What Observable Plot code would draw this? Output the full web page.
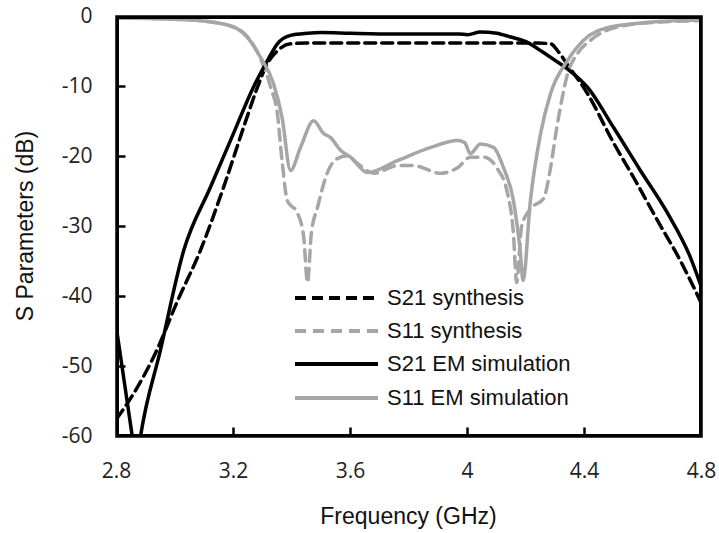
<!DOCTYPE html>
<html><head><meta charset="utf-8">
<script src="https://cdn.jsdelivr.net/npm/d3@7"></script>
<script src="https://cdn.jsdelivr.net/npm/@observablehq/plot@0.6"></script>
<style>
body{margin:0;background:#fff}
#wrap{position:relative;width:719px;height:533px}
#legend{position:absolute;left:295px;top:281px;font-family:"Liberation Sans",Arial,sans-serif;font-size:22px;color:#111}
.row{display:flex;align-items:center;height:33.4px;white-space:nowrap}
.row svg{margin-right:9px;display:block}
.title{position:absolute;font-family:"Liberation Sans",Arial,sans-serif;font-size:23px;color:#111;white-space:nowrap;line-height:1}
#xtitle{left:0;width:817px;top:505px;text-align:center}
#ytitle{left:25px;top:226px;transform:translate(-50%,-50%) rotate(-90deg)}
</style></head><body><div id="wrap"><div id="legend"></div><div id="xtitle" class="title"></div><div id="ytitle" class="title"></div></div>
<script>
// Axis domains and tick values
const xDomain = [2.8, 4.8];
const yDomain = [-60, 0];
const xTicks = [2.8, 3.2, 3.6, 4, 4.4, 4.8];
const yTicks = [0, -10, -20, -30, -40, -50, -60];
const xTitle = "Frequency (GHz)";
const yTitle = "S Parameters (dB)";

// Series names and styles
const seriesNames = ["S21 synthesis", "S11 synthesis", "S21 EM simulation", "S11 EM simulation"];
const seriesColors = ["#000000", "#a6a6a6", "#000000", "#a6a6a6"];
const seriesDash = ["11,6", "11,7", null, null];

// S21 synthesis
const s21SynF = [2.8, 2.858, 2.933, 3.009, 3.087, 3.166, 3.234, 3.282, 3.316, 3.35, 3.395, 3.45, 3.6, 3.8, 4.0, 4.15, 4.24, 4.284, 4.31, 4.342, 4.41, 4.5, 4.568, 4.649, 4.728, 4.8];
const s21SynDb = [-57.5, -53.9, -48.1, -40.6, -33.4, -24.4, -15.9, -10.1, -6.7, -4.9, -3.9, -3.8, -3.8, -3.8, -3.8, -3.8, -3.8, -3.9, -5.0, -6.9, -11.0, -18.1, -23.0, -29.1, -34.9, -41.0];

// S11 synthesis
const s11SynF = [2.8, 3.0, 3.09, 3.2, 3.25, 3.29, 3.327, 3.35, 3.366, 3.384, 3.419, 3.44, 3.453, 3.466, 3.487, 3.52, 3.555, 3.59, 3.624, 3.68, 3.76, 3.815, 3.908, 3.966, 4.01, 4.055, 4.1, 4.137, 4.157, 4.168, 4.185, 4.215, 4.26, 4.284, 4.302, 4.322, 4.342, 4.376, 4.42, 4.513, 4.65, 4.8];
const s11SynDb = [-0.2, -0.4, -0.6, -1.5, -3.0, -5.8, -10.1, -13.9, -20.6, -26.3, -28.1, -31.5, -38.0, -31.0, -27.3, -22.4, -20.3, -19.9, -21.0, -22.4, -21.3, -21.3, -22.4, -21.6, -20.1, -20.1, -21.6, -25.3, -31.0, -38.0, -30.0, -27.5, -26.0, -21.6, -16.7, -12.0, -8.2, -5.3, -3.4, -1.5, -0.8, -0.6];

// S21 EM simulation
const s21EmF = [2.8, 2.854, 2.868, 2.882, 2.95, 3.03, 3.121, 3.2, 3.268, 3.316, 3.35, 3.395, 3.453, 3.5, 3.6, 3.75, 3.9, 3.97, 4.0, 4.044, 4.1, 4.145, 4.2, 4.24, 4.29, 4.342, 4.41, 4.5, 4.591, 4.684, 4.762, 4.8];
const s21EmDb = [-44.6, -60.0, -64.0, -60.0, -47.7, -33.4, -24.4, -16.7, -10.1, -6.3, -3.9, -2.7, -2.4, -2.3, -2.4, -2.5, -2.5, -2.5, -2.6, -2.2, -2.4, -2.9, -3.6, -4.6, -6.0, -7.5, -10.1, -15.9, -22.0, -28.1, -34.4, -38.7];

// S11 EM simulation
const s11EmF = [2.8, 2.9, 3.0, 3.087, 3.2, 3.248, 3.292, 3.337, 3.366, 3.395, 3.429, 3.474, 3.508, 3.532, 3.566, 3.6, 3.658, 3.76, 3.874, 3.966, 3.99, 4.01, 4.044, 4.089, 4.123, 4.157, 4.18, 4.19, 4.215, 4.25, 4.284, 4.342, 4.397, 4.489, 4.626, 4.8];
const s11EmDb = [-0.2, -0.3, -0.4, -0.6, -1.5, -3.0, -5.8, -9.6, -14.4, -22.0, -18.7, -14.9, -16.7, -17.3, -19.1, -20.1, -22.3, -20.6, -18.7, -17.7, -18.0, -19.6, -18.2, -18.7, -21.6, -26.3, -33.4, -37.7, -26.3, -16.7, -11.0, -6.3, -3.4, -1.5, -0.8, -0.5];

const seriesF = [s21SynF, s11SynF, s21EmF, s11EmF];
const seriesDb = [s21SynDb, s11SynDb, s21EmDb, s11EmDb];

const tickFont = '"Open Sans", "Liberation Sans", sans-serif';
const W = 719, H = 533, mL = 116, mR = 18, mT = 16, mB = 97;
const tickPx = 9;

const lineMarks = seriesNames.map((name, i) =>
  Plot.line(seriesF[i].map((f, j) => ({f, db: seriesDb[i][j]})), {
    x: "f", y: "db", stroke: seriesColors[i], strokeWidth: 3.5,
    strokeDasharray: seriesDash[i] || undefined, curve: "monotone-x", clip: true
  })
);

// frame outline and inward ticks, derived from domains and tick arrays
const frameCorners = [
  {x: xDomain[0], y: yDomain[0]}, {x: xDomain[1], y: yDomain[0]},
  {x: xDomain[1], y: yDomain[1]}, {x: xDomain[0], y: yDomain[1]},
  {x: xDomain[0], y: yDomain[0]}
];
const tickDb = (yDomain[1] - yDomain[0]) * tickPx / (H - mT - mB);
const tickGHz = (xDomain[1] - xDomain[0]) * tickPx / (W - mL - mR);
const xTickSegs = xTicks.slice(1, -1).flatMap(t => [{x: t, y: yDomain[0], z: "x" + t}, {x: t, y: yDomain[0] + tickDb, z: "x" + t}]);
const yTickSegs = yTicks.slice(1, -1).flatMap(t => [{x: xDomain[0], y: t, z: "y" + t}, {x: xDomain[0] + tickGHz, y: t, z: "y" + t}]);

const chart = Plot.plot({
  width: W, height: H,
  marginLeft: mL, marginRight: mR, marginTop: mT, marginBottom: mB,
  x: {domain: xDomain},
  y: {domain: yDomain},
  style: {background: "white", color: "#222"},
  marks: [
    Plot.axisX(xTicks, {tickSize: 0, tickPadding: 27, tickFormat: d => String(d), fontSize: 21, fontFamily: tickFont, label: null}),
    Plot.axisY(yTicks, {tickSize: 0, tickPadding: 24, tickFormat: d => String(d), fontSize: 21, fontFamily: tickFont, label: null}),
    ...lineMarks,
    Plot.line(xTickSegs, {x: "x", y: "y", z: "z", stroke: "#000000", strokeWidth: 2.5, strokeLinecap: "butt", clip: true}),
    Plot.line(yTickSegs, {x: "x", y: "y", z: "z", stroke: "#000000", strokeWidth: 2.5, strokeLinecap: "butt", clip: true}),
    Plot.line(frameCorners, {x: "x", y: "y", stroke: "#000000", strokeWidth: 5, strokeLinejoin: "miter", strokeLinecap: "square", clip: true}),
    Plot.frame({stroke: "#000000", strokeWidth: 2.5})
  ]
});
document.getElementById("wrap").prepend(chart);
document.getElementById("xtitle").textContent = xTitle;
document.getElementById("ytitle").textContent = yTitle;

const legend = document.getElementById("legend");
seriesNames.forEach((name, i) => {
  const row = document.createElement("div");
  row.className = "row";
  const ns = "http://www.w3.org/2000/svg";
  const svg = document.createElementNS(ns, "svg");
  svg.setAttribute("width", 83); svg.setAttribute("height", 8);
  const ln = document.createElementNS(ns, "line");
  ln.setAttribute("x1", 0); ln.setAttribute("x2", 83); ln.setAttribute("y1", 4); ln.setAttribute("y2", 4);
  ln.setAttribute("stroke", seriesColors[i]); ln.setAttribute("stroke-width", 4);
  if (seriesDash[i]) ln.setAttribute("stroke-dasharray", seriesDash[i]);
  svg.appendChild(ln);
  row.appendChild(svg);
  const span = document.createElement("span");
  span.textContent = name;
  row.appendChild(span);
  legend.appendChild(row);
});
</script></body></html>
